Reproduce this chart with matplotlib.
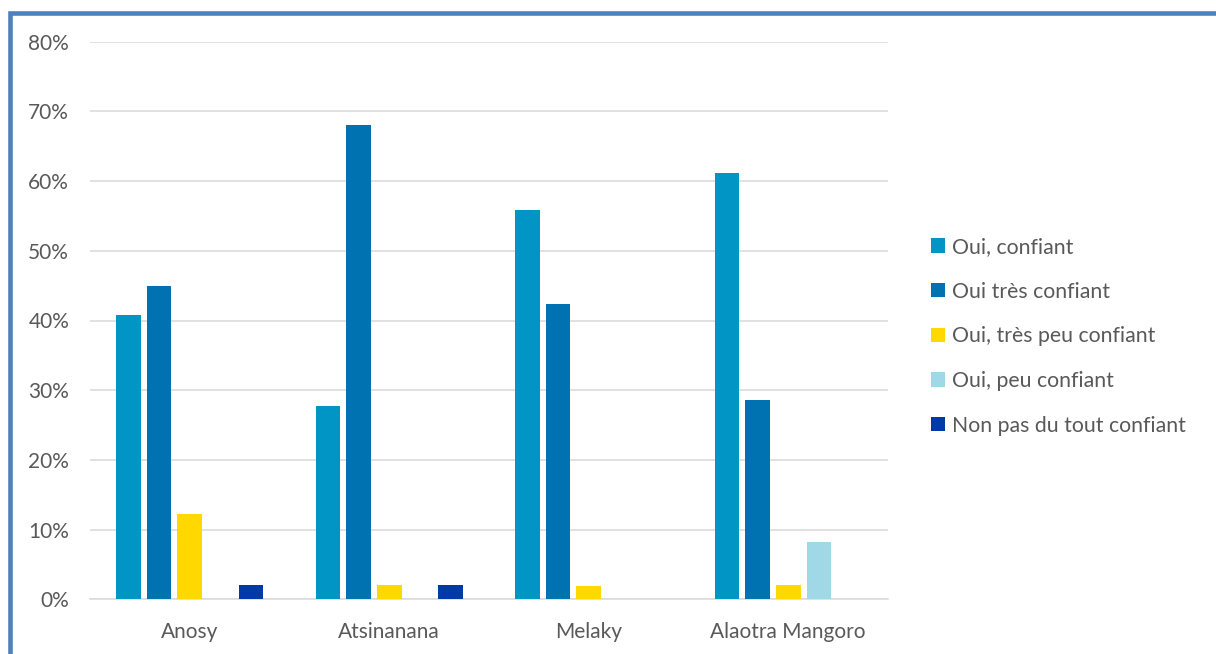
import matplotlib.pyplot as plt
from matplotlib.patches import Rectangle, Patch
import numpy as np

plt.rcParams['font.family'] = ['Lato', 'DejaVu Sans']

regions = ['Anosy', 'Atsinanana', 'Melaky', 'Alaotra Mangoro']
series = ['Oui, confiant', 'Oui très confiant', 'Oui, très peu confiant',
          'Oui, peu confiant', 'Non pas du tout confiant']
values = [
    [40.8, 27.7, 55.8, 61.2],   # Oui, confiant
    [44.9, 68.1, 42.3, 28.6],   # Oui très confiant
    [12.2, 2.1, 1.9, 2.0],      # Oui, très peu confiant
    [0.0, 0.0, 0.0, 8.2],       # Oui, peu confiant
    [2.0, 2.1, 0.0, 0.0],       # Non pas du tout confiant
]
colors = ['#0095C4', '#0072B2', '#FFD800', '#9FD8E7', '#0039A8']
text_col = '#595959'
grid_col = '#D9D9D9'

W, H = 1216, 654
fig = plt.figure(figsize=(W / 100, H / 100), dpi=100)
ax = fig.add_axes([90 / W, 1 - 599.3 / H, (888 - 90) / W, (599.3 - 41.7) / H])

x = np.arange(len(regions))
slot = 0.154
width = 0.123
for i, (name, vals) in enumerate(zip(series, values)):
    offs = (i - 2) * slot
    ax.bar(x + offs, vals, width=width, color=colors[i], label=name, zorder=3)

ax.set_xlim(-0.5, len(regions) - 0.5)
ax.set_ylim(0, 80)
ax.set_yticks(np.arange(0, 81, 10))
ax.set_yticklabels([f'{v}%' for v in range(0, 81, 10)])
ax.set_xticks(x)
ax.set_xticklabels(regions)
ax.tick_params(axis='both', length=0, labelsize=15, colors=text_col)
ax.tick_params(axis='y', pad=15)
ax.tick_params(axis='x', pad=16)
ax.grid(axis='y', color=grid_col, linewidth=1.1, zorder=0)
for side in ['top', 'right', 'left']:
    ax.spines[side].set_visible(False)
ax.spines['bottom'].set_color(grid_col)
ax.spines['bottom'].set_linewidth(1.1)

handles = [Patch(facecolor=c) for c in colors]
leg = fig.legend(handles, series, loc='upper left',
                 bbox_to_anchor=(931 / W, 1 - 237 / H),
                 frameon=False, fontsize=15.3, handlelength=0.67,
                 handleheight=0.67, handletextpad=0.3, labelspacing=1.16,
                 borderaxespad=0, borderpad=0)
for t in leg.get_texts():
    t.set_color(text_col)

# blue frame, left and top edges
fig.patches.append(Rectangle((10 / W, -0.1), 1.2, (H - 12.5) / H + 0.1,
                             transform=fig.transFigure, fill=False,
                             edgecolor='#4F81BD', linewidth=3.3))

fig.savefig('out.png', dpi=100)
